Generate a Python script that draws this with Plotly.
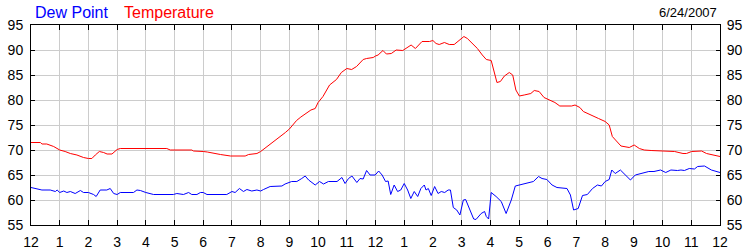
import plotly.graph_objects as go

# Temperature (hour of day, °F)
temp_hours = [0, 0.33, 0.38, 0.55, 0.79, 1.0, 1.19, 1.37, 1.6, 1.83, 2.0, 2.12, 2.24, 2.38, 2.53, 2.65, 2.82, 3.0, 3.11,
              4.73, 4.85, 4.91, 5.6, 5.66, 5.9, 6.0, 6.14, 6.37, 6.6, 6.95, 7.0, 7.46, 7.58, 7.87, 8.0, 8.21, 8.45, 8.69,
              8.86, 9.0, 9.25, 9.4, 9.6, 9.75, 9.9, 10.0, 10.17, 10.4, 10.64, 10.81, 11.0, 11.17, 11.34, 11.57, 11.69,
              11.92, 12.0, 12.09, 12.26, 12.38, 12.55, 12.72, 12.95, 13.24, 13.39, 13.62, 13.88, 14.0, 14.11, 14.22,
              14.4, 14.57, 14.74, 14.91, 15.08, 15.2, 15.37, 15.55, 15.72, 15.86, 16.03, 16.14, 16.23, 16.35, 16.49,
              16.66, 16.78, 16.89, 17.01, 17.18, 17.41, 17.53, 17.7, 17.87, 18.0, 18.25, 18.42, 18.83, 18.95, 19.12,
              19.24, 19.53, 19.77, 20.0, 20.14, 20.25, 20.37, 20.55, 20.84, 21.01, 21.19, 21.36, 21.6, 22.3, 22.42,
              22.71, 22.83, 23.01, 23.18, 23.36, 23.53, 24.0]
temp_values = [71.5, 71.5, 71.2, 71.2, 70.7, 70.0, 69.7, 69.3, 69.0, 68.5, 68.3, 68.3, 69.0, 69.7, 69.5, 69.2, 69.2, 70.1, 70.3,
               70.3, 70.0, 70.0, 70.0, 69.8, 69.8, 69.7, 69.6, 69.3, 69.1, 68.8, 68.8, 68.8, 69.1, 69.3, 69.7, 70.6,
               71.6, 72.6, 73.5, 74.2, 75.9, 76.6, 77.3, 78.0, 78.3, 79.5, 80.7, 83.0, 84.1, 85.5, 86.3, 86.1, 86.7,
               88.1, 88.3, 88.5, 88.8, 89.0, 89.9, 89.2, 89.3, 90.0, 89.9, 91.0, 90.3, 91.7, 91.7, 91.9, 91.3, 91.1,
               91.5, 91.1, 91.1, 92.0, 92.7, 92.3, 91.3, 90.3, 89.0, 88.1, 87.9, 85.3, 83.5, 83.7, 84.8, 85.5, 85.0,
               82.0, 80.8, 81.0, 81.3, 81.9, 81.7, 80.5, 80.1, 79.5, 78.8, 78.8, 79.0, 78.5, 77.7, 77.0, 76.3, 75.7,
               75.0, 72.7, 72.0, 70.8, 70.5, 71.0, 70.3, 70.0, 69.9, 69.7, 69.7, 69.3, 69.3, 69.7, 69.7, 69.8, 69.3,
               68.7, 68.7]

# Dew point (hour of day, °F)
dew_hours = [0, 0.21, 0.38, 0.67, 0.85, 0.91, 1.0, 1.14, 1.25, 1.37, 1.54, 1.72, 1.83, 2.0, 2.18, 2.27, 2.41, 2.64, 2.76,
             2.88, 3.0, 3.11, 3.57, 3.69, 3.81, 4.0, 4.27, 4.96, 5.08, 5.31, 5.49, 5.6, 5.78, 5.9, 6.0, 6.13, 6.59,
             6.82, 7.0, 7.11, 7.26, 7.4, 7.52, 7.69, 7.87, 8.0, 8.1, 8.33, 8.74, 8.85, 9.08, 9.26, 9.43, 9.55, 9.67,
             9.9, 10.05, 10.19, 10.36, 10.66, 10.83, 10.94, 11.06, 11.18, 11.35, 11.46, 11.57, 11.69, 11.81, 11.99,
             12.11, 12.23, 12.35, 12.44, 12.53, 12.65, 12.77, 12.88, 13.0, 13.12, 13.23, 13.35, 13.47, 13.58, 13.7,
             13.76, 13.84, 13.94, 14.06, 14.18, 14.29, 14.41, 14.53, 14.61, 14.71, 14.83, 14.94, 15.06, 15.14,
             15.3, 15.42, 15.5, 15.68, 15.8, 15.86, 15.94, 16.03, 16.2, 16.33, 16.38, 16.55, 16.66, 16.73, 16.87,
             17.0, 17.1, 17.27, 17.5, 17.68, 17.8, 17.97, 18.15, 18.32, 18.55, 18.67, 18.79, 18.9, 19.06, 19.21,
             19.38, 19.56, 19.73, 19.87, 20.0, 20.14, 20.23, 20.35, 20.53, 20.7, 20.76, 20.88, 21.05, 21.29, 21.52,
             21.7, 21.93, 22.11, 22.29, 22.52, 22.64, 22.76, 22.93, 23.11, 23.22, 23.46, 23.7, 24.0]
dew_values = [62.5, 62.3, 62.0, 62.0, 61.7, 62.0, 61.5, 61.8, 61.5, 61.7, 61.3, 61.9, 61.5, 61.5, 61.1, 60.7, 62.0, 62.0,
              62.3, 61.3, 61.1, 61.5, 61.5, 62.0, 61.9, 61.5, 61.1, 61.1, 61.3, 61.1, 61.5, 61.1, 61.1, 61.5, 61.5,
              61.1, 61.0, 61.1, 61.7, 61.5, 62.3, 61.7, 62.1, 61.8, 62.0, 61.8, 62.1, 62.7, 62.8, 63.2, 63.7, 63.7,
              64.3, 64.8, 64.0, 63.0, 63.7, 63.2, 63.7, 63.7, 64.5, 63.3, 64.3, 64.8, 63.5, 64.3, 64.2, 65.9, 65.0,
              65.0, 65.8, 65.0, 63.7, 63.8, 61.1, 63.0, 61.7, 62.0, 63.3, 62.0, 60.3, 61.7, 60.7, 62.3, 63.0, 62.0,
              62.3, 60.9, 62.7, 61.3, 61.7, 61.5, 62.0, 62.0, 58.5, 58.0, 57.0, 60.0, 60.1, 58.0, 56.2, 56.1, 57.3,
              57.7, 56.7, 56.2, 61.5, 60.7, 60.1, 59.7, 57.3, 59.0, 60.0, 62.8, 63.0, 63.1, 63.5, 63.7, 64.7, 64.3,
              64.1, 63.0, 62.5, 62.3, 62.3, 61.0, 58.0, 58.3, 60.9, 61.1, 62.3, 63.0, 62.8, 63.7, 64.1, 66.0, 65.3,
              66.0, 65.0, 64.5, 64.0, 65.0, 65.3, 65.7, 65.7, 66.0, 65.5, 66.0, 65.9, 66.0, 65.9, 66.3, 66.2, 66.7,
              66.8, 66.0, 65.5, 65.7]

x_tick_vals = list(range(0, 25))
x_tick_text = ["12", "1", "2", "3", "4", "5", "6", "7", "8", "9", "10", "11",
               "12", "1", "2", "3", "4", "5", "6", "7", "8", "9", "10", "11", "12"]
y_tick_vals = [55, 60, 65, 70, 75, 80, 85, 90, 95]

font_family = "Arial, Liberation Sans, sans-serif"

fig = go.Figure()
fig.add_trace(go.Scatter(x=temp_hours, y=temp_values, mode="lines",
                         line=dict(color="#ff0000", width=1), name="Temperature"))
fig.add_trace(go.Scatter(x=dew_hours, y=dew_values, mode="lines",
                         line=dict(color="#0000ff", width=1), name="Dew Point"))
# invisible trace for right axis
fig.add_trace(go.Scatter(x=[0], y=[55], yaxis="y2", mode="markers",
                         marker=dict(opacity=0), showlegend=False, hoverinfo="skip"))

fig.update_layout(
    width=750, height=250,
    margin=dict(l=31, r=30, t=25, b=25, autoexpand=False),
    paper_bgcolor="white", plot_bgcolor="white",
    showlegend=False,
    font=dict(family=font_family, size=14, color="#000000"),
    xaxis=dict(range=[0, 24], tickvals=x_tick_vals, ticktext=x_tick_text,
               showgrid=True, gridcolor="#cccccc", gridwidth=1,
               showline=True, linecolor="black", linewidth=1, mirror="ticks",
               ticks="inside", ticklen=5, tickcolor="black", zeroline=False,
               tickfont=dict(size=14), ticklabelstandoff=4, automargin=False),
    yaxis=dict(range=[55, 95], tickvals=y_tick_vals,
               showgrid=True, gridcolor="#cccccc", gridwidth=1,
               showline=True, linecolor="black", linewidth=1,
               ticks="inside", ticklen=4, tickcolor="black", zeroline=False,
               tickfont=dict(size=14), ticklabelstandoff=4, automargin=False),
    yaxis2=dict(range=[55, 95], tickvals=y_tick_vals, overlaying="y", side="right",
                showgrid=False, showline=True, linecolor="black", linewidth=1,
                ticks="inside", ticklen=4, tickcolor="black", zeroline=False,
                tickfont=dict(size=14), ticklabelstandoff=3, automargin=False),
)

pw = 750 - 31 - 30
ph = 250 - 25 - 25
def px_x(x):
    return (x - 31) / pw
def px_y(y):
    return (250 - 25 - y) / ph

fig.update_layout(annotations=[
    dict(text="Dew Point", x=px_x(33), y=px_y(13), xref="paper", yref="paper",
         xanchor="left", yanchor="middle", showarrow=False,
         font=dict(size=16, color="#0000ff")),
    dict(text="Temperature", x=px_x(122), y=px_y(13), xref="paper", yref="paper",
         xanchor="left", yanchor="middle", showarrow=False,
         font=dict(size=16, color="#ff0000")),
    dict(text="6/24/2007", x=px_x(719), y=px_y(13), xref="paper", yref="paper",
         xanchor="right", yanchor="middle", showarrow=False,
         font=dict(size=13, color="#000000")),
])

fig.write_html("out.html")
